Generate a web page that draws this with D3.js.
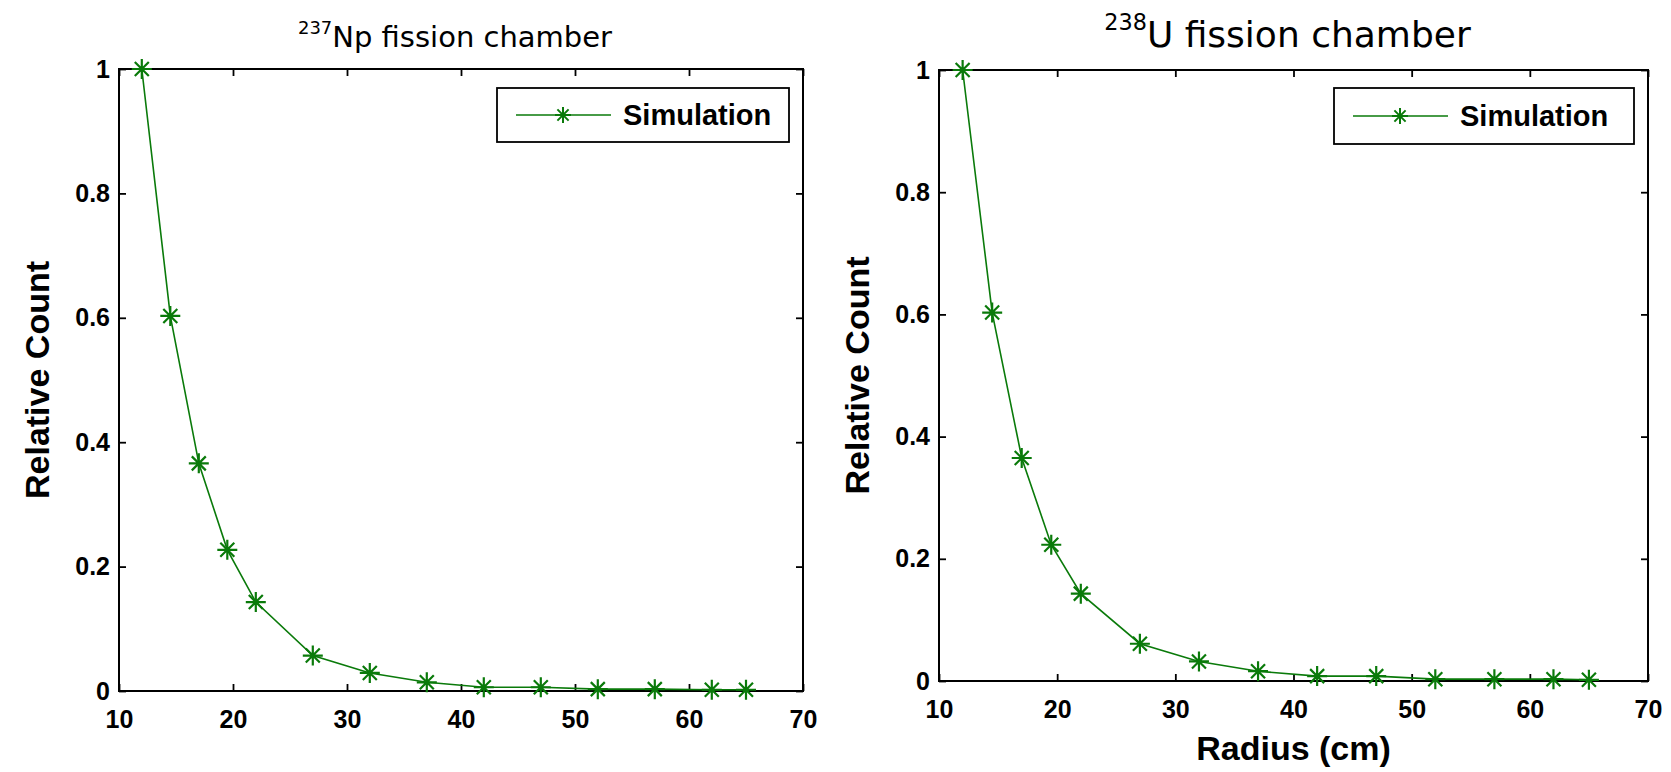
<!DOCTYPE html>
<html>
<head>
    <meta charset="utf-8">
    <title>Fission chamber relative count</title>
    <script src="https://d3js.org/d3.v7.min.js"></script>
    <style>
        body { margin: 0; background: #fff; }
        .tick text { font-family: "Liberation Sans", Arial, sans-serif; font-weight: bold; font-size: 25px; fill: #000; }
        .axis-label { font-family: "Liberation Sans", Arial, sans-serif; font-weight: bold; font-size: 34px; }
        .title { font-family: "DejaVu Sans", sans-serif; }
        .legend-text { font-family: "Liberation Sans", Arial, sans-serif; font-weight: bold; font-size: 29px; }
    </style>
</head>
<body>
    <div id="chart"></div>

    <script>
        // data
        const radius = [12, 14.5, 17, 19.5, 22, 27, 32, 37, 42, 47, 52, 57, 62, 65];
        const npCount = [1, 0.603, 0.366, 0.227, 0.143, 0.057, 0.029, 0.014, 0.006, 0.006, 0.003, 0.003, 0.002, 0.002];
        const uCount = [1, 0.603, 0.365, 0.223, 0.143, 0.061, 0.032, 0.016, 0.008, 0.008, 0.003, 0.003, 0.003, 0.002];
        const xTicks = [10, 20, 30, 40, 50, 60, 70];
        const yTicks = [0, 0.2, 0.4, 0.6, 0.8, 1];
        const seriesName = "Simulation";

        const width = 1671, height = 772;
        const green = "#0a7a0a";

        const svg = d3.select("#chart").append("svg")
            .attr("width", width)
            .attr("height", height);

        const panels = [
            { left: 119, right: 803, top: 69, bottom: 691, counts: npCount,
              sup: "237", title: "Np fission chamber", titleSize: 29, xlabel: null,
              legend: { x: 497, y: 88, w: 292, h: 54 } },
            { left: 939, right: 1648, top: 70, bottom: 681, counts: uCount,
              sup: "238", title: "U fission chamber", titleSize: 36, xlabel: "Radius (cm)",
              legend: { x: 1334, y: 88, w: 300, h: 56 } }
        ];

        // asterisk marker like matlab '*'
        function star(cx, cy, r) {
            const d = r * 0.7;
            return `M${cx},${cy - r}L${cx},${cy + r}M${cx - r},${cy}L${cx + r},${cy}` +
                `M${cx - d},${cy - d}L${cx + d},${cy + d}M${cx - d},${cy + d}L${cx + d},${cy - d}`;
        }

        panels.forEach(p => {
            const x = d3.scaleLinear().domain([10, 70]).range([p.left, p.right]);
            const y = d3.scaleLinear().domain([0, 1]).range([p.bottom, p.top]);
            const g = svg.append("g");

            // axes, ticks pointing inward
            g.append("g")
                .attr("transform", `translate(0,${p.bottom})`)
                .call(d3.axisBottom(x).tickValues(xTicks).tickSizeInner(-7).tickSizeOuter(0).tickPadding(19));
            g.append("g")
                .attr("transform", `translate(${p.left},0)`)
                .call(d3.axisLeft(y).tickValues(yTicks).tickFormat(d3.format("~g"))
                    .tickSizeInner(-7).tickSizeOuter(0).tickPadding(9));
            g.append("g")
                .attr("transform", `translate(0,${p.top})`)
                .call(d3.axisTop(x).tickValues(xTicks).tickFormat("").tickSizeInner(-7).tickSizeOuter(0));
            g.append("g")
                .attr("transform", `translate(${p.right},0)`)
                .call(d3.axisRight(y).tickValues(yTicks).tickFormat("").tickSizeInner(-7).tickSizeOuter(0));

            g.selectAll(".domain").remove();
            g.selectAll(".tick line").attr("stroke", "#000").attr("stroke-width", 1.8);

            g.append("rect")
                .attr("x", p.left).attr("y", p.top)
                .attr("width", p.right - p.left).attr("height", p.bottom - p.top)
                .attr("fill", "none").attr("stroke", "#000").attr("stroke-width", 2);

            // series
            const pts = radius.map((r, i) => [r, p.counts[i]]);
            g.append("path")
                .datum(pts)
                .attr("fill", "none")
                .attr("stroke", green)
                .attr("stroke-width", 1.6)
                .attr("d", d3.line().x(d => x(d[0])).y(d => y(d[1])));

            g.selectAll(".mk")
                .data(pts)
                .enter().append("path")
                .attr("class", "mk")
                .attr("d", d => star(x(d[0]), y(d[1]), 10))
                .attr("stroke", green)
                .attr("stroke-width", 2.2)
                .attr("fill", "none");

            // title with isotope superscript
            const t = g.append("text")
                .attr("class", "title")
                .attr("x", (p.left + p.right) / 2 - 6)
                .attr("y", 47)
                .attr("text-anchor", "middle")
                .style("font-size", p.titleSize + "px");
            t.append("tspan")
                .style("font-size", "0.62em")
                .attr("dy", "-0.75em")
                .text(p.sup);
            t.append("tspan")
                .attr("dy", "0.465em")
                .text(p.title);

            // y label
            g.append("text")
                .attr("class", "axis-label")
                .attr("transform", `translate(${p.left - 70},${(p.top + p.bottom) / 2}) rotate(-90)`)
                .attr("text-anchor", "middle")
                .text("Relative Count");

            if (p.xlabel) {
                g.append("text")
                    .attr("class", "axis-label")
                    .attr("x", (p.left + p.right) / 2)
                    .attr("y", 760)
                    .attr("text-anchor", "middle")
                    .text(p.xlabel);
            }

            // legend
            const L = p.legend;
            const lg = g.append("g").attr("transform", `translate(${L.x},${L.y})`);
            lg.append("rect")
                .attr("width", L.w).attr("height", L.h)
                .attr("fill", "#fff").attr("stroke", "#000").attr("stroke-width", 1.8);
            lg.append("line")
                .attr("x1", 19).attr("x2", 114)
                .attr("y1", L.h / 2).attr("y2", L.h / 2)
                .attr("stroke", green).attr("stroke-width", 1.6);
            lg.append("path")
                .attr("d", star(66, L.h / 2, 8))
                .attr("stroke", green).attr("stroke-width", 2).attr("fill", "none");
            lg.append("text")
                .attr("class", "legend-text")
                .attr("x", 126)
                .attr("y", L.h / 2)
                .attr("dy", "0.36em")
                .text(seriesName);
        });
    </script>
</body>
</html>
